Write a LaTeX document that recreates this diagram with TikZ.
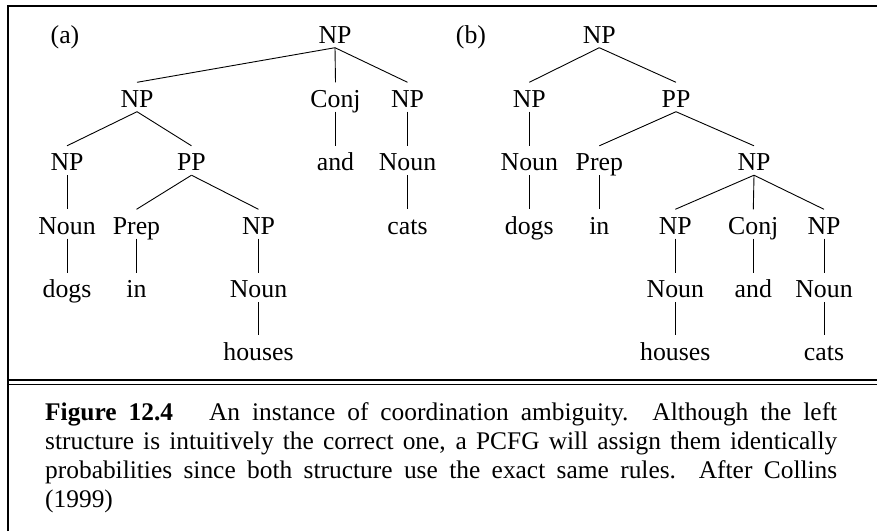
\documentclass[tikz,border=0pt]{standalone}
\usepackage{fontspec}
\setmainfont{Liberation Serif}
\begin{document}
\begin{tikzpicture}[x=1pt,y=-1pt,
  tn/.style={anchor=base, inner xsep=0pt, inner ysep=4.5pt, text height=20pt, text depth=0pt, font=\fontsize{25.8}{30}\selectfont},
  lbl/.style={anchor=base, inner sep=0pt, font=\fontsize{25.8}{30}\selectfont},
  edge/.style={line width=0.9pt},
  frame/.style={line width=2.2pt, line join=miter},
  capt/.style={anchor=base west, inner sep=0pt, font=\fontsize{25.4}{29}\selectfont}]
\useasboundingbox (0,0) rectangle (877,531);

% frame
\draw[frame] (7.7,531) -- (7.7,5.7) -- (877,5.7);
\draw[line width=2.2pt] (7.7,380) -- (877,380);
\draw[line width=1.6pt] (7.7,384.5) -- (877,384.5);

% ---------- tree (a)
\node[lbl] (la) at (65,43) {(a)};
\node[tn] (ar) at (335,43) {NP};
\node[tn] (an1) at (137,107) {NP};
\node[tn] (aconj) at (335.5,107) {Conj};
\node[tn] (an2) at (407.5,107) {NP};
\node[tn] (an3) at (67,170.5) {NP};
\node[tn] (app) at (191.5,170.5) {PP};
\node[tn] (aand) at (335.5,170.5) {and};
\node[tn] (anoun2) at (407.5,170.5) {Noun};
\node[tn] (anoun1) at (67,234) {Noun};
\node[tn] (aprep) at (136.5,234) {Prep};
\node[tn] (an4) at (258.5,234) {NP};
\node[tn] (acats) at (407.5,234) {cats};
\node[tn] (adogs) at (67,297.5) {dogs};
\node[tn] (ain) at (136.5,297.5) {in};
\node[tn] (anoun3) at (258.5,297.5) {Noun};
\node[tn] (ahouses) at (258.5,360) {houses};

\draw[edge] (ar.south) -- (an1.north);
\draw[edge] (ar.south) -- (aconj.north);
\draw[edge] (ar.south) -- (an2.north);
\draw[edge] (an1.south) -- (an3.north);
\draw[edge] (an1.south) -- (app.north);
\draw[edge] (aconj.south) -- (aand.north);
\draw[edge] (an2.south) -- (anoun2.north);
\draw[edge] (an3.south) -- (anoun1.north);
\draw[edge] (app.south) -- (aprep.north);
\draw[edge] (app.south) -- (an4.north);
\draw[edge] (anoun2.south) -- (acats.north);
\draw[edge] (anoun1.south) -- (adogs.north);
\draw[edge] (aprep.south) -- (ain.north);
\draw[edge] (an4.south) -- (anoun3.north);
\draw[edge] (anoun3.south) -- (ahouses.north);

% ---------- tree (b)
\node[lbl] (lb) at (471,43) {(b)};
\node[tn] (br) at (599.3,43) {NP};
\node[tn] (bn1) at (529.3,107) {NP};
\node[tn] (bpp) at (676,107) {PP};
\node[tn] (bnoun1) at (529.3,170.5) {Noun};
\node[tn] (bprep) at (599.3,170.5) {Prep};
\node[tn] (bn2) at (754,170.5) {NP};
\node[tn] (bdogs) at (529.3,234) {dogs};
\node[tn] (bin) at (599.3,234) {in};
\node[tn] (bn3) at (675.3,234) {NP};
\node[tn] (bconj) at (753.3,234) {Conj};
\node[tn] (bn4) at (824,234) {NP};
\node[tn] (bnoun2) at (675.3,297.5) {Noun};
\node[tn] (band) at (753.3,297.5) {and};
\node[tn] (bnoun3) at (824,297.5) {Noun};
\node[tn] (bhouses) at (675.3,360) {houses};
\node[tn] (bcats) at (824,360) {cats};

\draw[edge] (br.south) -- (bn1.north);
\draw[edge] (br.south) -- (bpp.north);
\draw[edge] (bn1.south) -- (bnoun1.north);
\draw[edge] (bpp.south) -- (bprep.north);
\draw[edge] (bpp.south) -- (bn2.north);
\draw[edge] (bnoun1.south) -- (bdogs.north);
\draw[edge] (bprep.south) -- (bin.north);
\draw[edge] (bn2.south) -- (bn3.north);
\draw[edge] (bn2.south) -- (bconj.north);
\draw[edge] (bn2.south) -- (bn4.north);
\draw[edge] (bn3.south) -- (bnoun2.north);
\draw[edge] (bconj.south) -- (band.north);
\draw[edge] (bn4.south) -- (bnoun3.north);
\draw[edge] (bnoun2.south) -- (bhouses.north);
\draw[edge] (bnoun3.south) -- (bcats.north);

% ---------- caption
\node[capt] (cap1) at (45,420) {\makebox[792pt][s]{\textbf{Figure 12.4}\hspace{36pt}An instance of coordination ambiguity.\ \ Although the left}};
\node[capt] (cap2) at (45,449) {\makebox[792pt][s]{structure is intuitively the correct one, a PCFG will assign them identically}};
\node[capt] (cap3) at (45,478) {\makebox[792pt][s]{probabilities since both structure use the exact same rules.\ \ After Collins}};
\node[capt] (cap4) at (45,507) {(1999)};
\end{tikzpicture}
\end{document}
